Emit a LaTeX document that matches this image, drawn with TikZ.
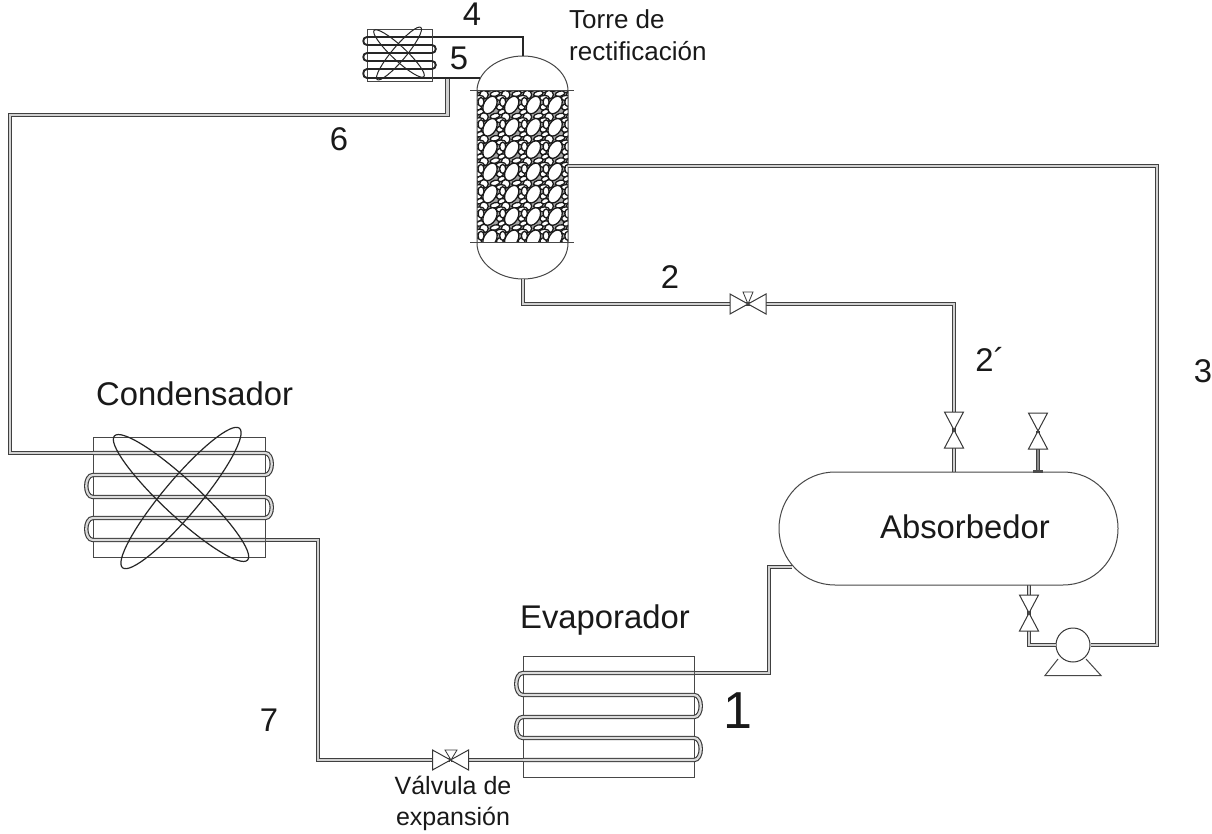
\documentclass[tikz,border=0pt]{standalone}
\usepackage{fontspec}
\setmainfont{Liberation Sans}
\usetikzlibrary{calc}
\tikzset{
 pipe/.style={draw=black!75,line width=1.2pt,double=black!18,double distance=2.2pt,line join=miter},
 coil/.style={draw=black!78,line width=1.1pt,double=black!14,double distance=2.2pt},
 smallcoil/.style={draw=black!85,line width=1.9pt},
 outline/.style={draw=black!72,line width=1pt},
 fan/.style={draw=black!85,line width=1.2pt},
 valvefill/.style={draw=black!78,line width=1pt,fill=white,line join=miter},
 lab/.style={text=black!90,inner sep=0pt,font=\fontsize{32.8}{34}\selectfont},
 small/.style={text=black!90,inner sep=0pt,align=left,font=\fontsize{26}{32}\selectfont},
 pt/.style={inner sep=0pt,minimum size=0pt},
 pebble/.style={fill=white,draw=black!90,line width=1.3pt}
}
\newcommand{\vvalve}[2]{% vertical valve centre, half-height
 \path[valvefill] ($(#1)+(-9.5,-#2)$) -- ($(#1)+(9.5,-#2)$) -- ($(#1)+(-9.5,#2)$) -- ($(#1)+(9.5,#2)$) -- cycle;}
\newcommand{\hvalve}[2]{%
 \path[valvefill] ($(#1)+(-#2,-10)$) -- ($(#1)+(-#2,10)$) -- ($(#1)+(#2,-10)$) -- ($(#1)+(#2,10)$) -- cycle;}
\begin{document}
\begin{tikzpicture}[x=1pt,y=-1pt]
\useasboundingbox (0,0) rectangle (1212,834);
\fill[white] (0,0) rectangle (1212,834);
% tower packing
\begin{scope}
\clip (477,91) rectangle (568,243);
\fill[black!35] (477,91) rectangle (568,243);
\foreach \r in {-1,0,...,6}{
 \foreach \c in {-1,0,...,4}{
  \begin{scope}[shift={(490+\c*21.7,105+\r*22.3)}]
   \filldraw[pebble] (11,-7) ellipse (5 and 2.6);
   \filldraw[pebble] (-9,-3) ellipse (3 and 4.5);
   \filldraw[pebble,rotate around={20:(10,2)}] (10,2) ellipse (3.5 and 3);
   \filldraw[pebble,rotate around={20:(-10,7)}] (-10,7) ellipse (4 and 2.5);
   \filldraw[pebble,rotate around={15:(5,11)}] (5,11) ellipse (5 and 2.6);
   \filldraw[pebble] (-6,12) circle (4.3);
   \filldraw[pebble,rotate around={60:(0,0)}] (0,0) ellipse (9.5 and 6.2);
  \end{scope}
 }
}
\end{scope}
% tower shell
\draw[outline] (477,91) -- (477,243) .. controls (477,263) and (498,279) .. (523,279) .. controls (548,279) and (568,263) .. (568,243)
  -- (568,91) .. controls (568,72) and (548,56) .. (523,56) .. controls (498,56) and (477,72) .. (477,91);
\draw[outline] (470,91) -- (574,91) (470,243) -- (574,243);
% named ports
\coordinate (towerTop) at (523,56);
\coordinate (towerBot) at (523,279);
\coordinate (towerSide) at (568,166);
\coordinate (condIn) at (93,453);
\coordinate (condOut) at (265,540);
\coordinate (evapIn) at (523,760);
\coordinate (evapOut) at (694,673);
\coordinate (absIn) at (792,567);
\coordinate (absTopA) at (954,472);
\coordinate (absTopB) at (1038,472);
\coordinate (absBot) at (1029,585);
\node[pt] (v2) at (748,304) {};
\node[pt] (v2p) at (954,430) {};
\node[pt] (v3) at (1038,431) {};
\node[pt] (v4) at (1029,613) {};
\node[pt] (vexp) at (450.5,760) {};
\node[draw=black!78,line width=1pt,fill=white,circle,minimum size=34pt,inner sep=0pt] (pump) at (1073,645) {};
% pipes
\draw[pipe] (towerBot) -- (523,304) -- (v2);
\draw[pipe] (v2) -- (954,304) -- (v2p);
\draw[pipe] (v2p) -- (absTopA);
\draw[pipe,double=black!45] (v3) -- (absTopB);
\draw[pipe] (absBot) -- (v4);
\draw[pipe] (v4) -- (1029,645) -- (pump);
\draw[pipe] (pump) -- (1157,645) -- (1157,166) -- (towerSide);
\draw[pipe] (condOut) -- (318,540) -- (318,760) -- (vexp);
\draw[pipe] (vexp) -- (evapIn);
\draw[pipe] (evapOut) -- (769,673) -- (769,567) -- (absIn);
\draw[pipe] (447.5,78) -- (447.5,115) -- (10,115) -- (10,453) -- (condIn);
% top pipes (4 and 5)
\draw[outline,draw=black!85,line width=1.6pt] (432,37) -- (523,37) -- (towerTop);
\draw[outline,draw=black!85,line width=1.6pt] (432,78) -- (480,78);
% absorber
\draw[outline,fill=white] (835,472) -- (1063,472) .. controls (1094,472) and (1118,497) .. (1118,528.5) .. controls (1118,560) and (1094,585) .. (1063,585) -- (835,585) .. controls (804,585) and (779,560) .. (779,528.5) .. controls (779,497) and (804,472) .. (835,472) -- cycle;
\fill[black!70] (1033,470) rectangle (1043,472.5);
% valves
\vvalve{v2p}{18}
\vvalve{v3}{18}
\vvalve{v4}{18}
\hvalve{v2}{18}
\hvalve{vexp}{18}
\path[valvefill,line width=.8pt] (743,292) -- (753,292) -- (748,304) -- cycle;
\path[valvefill,line width=.8pt] (445,750) -- (457,750) -- (451,760) -- cycle;
% pump base
\draw[outline] (1058,659) -- (1045,675.5) -- (1101,675.5) -- (1086,659);
% condenser
\draw[outline] (93,437) rectangle (265,557);
\draw[coil] (condIn) -- (265,453) .. controls (274,453) and (274,475) .. (265,475) -- (93,475)
 .. controls (84,475) and (84,497) .. (93,497) -- (265,497) .. controls (274,497) and (274,518) .. (265,518)
 -- (93,518) .. controls (84,518) and (84,540) .. (93,540) -- (condOut);
\draw[fan,rotate around={-43:(181,498)}] (181,498) ellipse (91 and 18);
\draw[fan,rotate around={50:(181,498)}] (181,498) ellipse (91 and 18);
% evaporator
\draw[outline] (523,656) rectangle (694,777);
\draw[coil] (evapOut) -- (523,673) .. controls (514,673) and (514,695) .. (523,695) -- (694,695)
 .. controls (703,695) and (703,717) .. (694,717) -- (523,717) .. controls (514,717) and (514,738) .. (523,738)
 -- (694,738) .. controls (703,738) and (703,760) .. (694,760) -- (evapIn);
% small condenser
\draw[outline] (367,30) rectangle (432,82);
\draw[smallcoil] (432,37) -- (367,37) .. controls (362,37) and (362,45) .. (367,45) -- (432,45)
 .. controls (437,45) and (437,53) .. (432,53) -- (367,53) .. controls (362,53) and (362,61) .. (367,61) -- (432,61)
 .. controls (437,61) and (437,69) .. (432,69) -- (367,69) .. controls (362,69) and (362,78) .. (367,78) -- (432,78);
\draw[fan,line width=1pt,rotate around={-43:(399,53.5)}] (399,53.5) ellipse (34 and 7);
\draw[fan,line width=1pt,rotate around={50:(399,53.5)}] (399,53.5) ellipse (34 and 7);
% labels
\node[lab,anchor=center] (n4) at (472,14) {4};
\node[lab,anchor=center] (n5) at (459,58) {5};
\node[lab,anchor=center] (n6) at (339,139) {6};
\node[lab,anchor=center] (n2) at (670,277) {2};
\node[lab,anchor=center] (n2p) at (990,359) {2´};
\node[lab,anchor=center] (n3) at (1203,371) {3};
\node[lab,anchor=center] (n7) at (269,720) {7};
\node[lab,anchor=center,font=\fontsize{52}{54}\selectfont] (n1) at (738,711) {1};
\node[lab,anchor=west] (lcond) at (96,394) {Condensador};
\node[lab,anchor=west] (levap) at (520,620) {Evaporador};
\node[lab,anchor=center] (labs) at (965,527) {Absorbedor};
\node[small,anchor=north west] (ltorre) at (569,9) {Torre de\\rectificación};
\node[small,anchor=north,align=center,font=\fontsize{25}{31}\selectfont] (lval) at (453,776) {Válvula de\\expansión};
\end{tikzpicture}
\end{document}
